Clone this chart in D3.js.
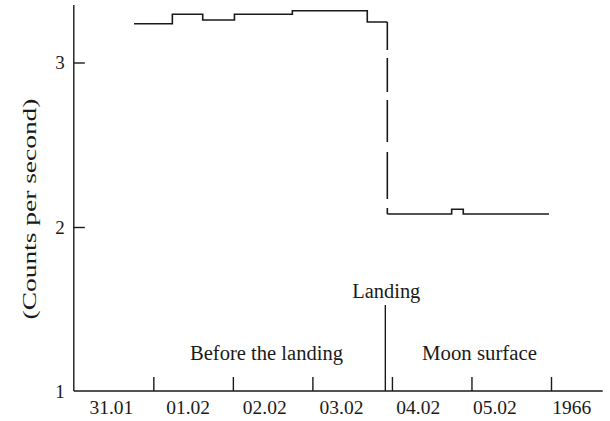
<!DOCTYPE html>
<html>
<head>
<meta charset="utf-8">
<script src="https://cdn.jsdelivr.net/npm/d3@7"></script>
<style>
  html, body { margin: 0; padding: 0; background: #fff; }
  svg { display: block; }
  text { font-family: "Liberation Serif", "DejaVu Serif", serif; fill: #1a1a1a; }
</style>
</head>
<body>
<svg id="chart" width="610" height="421"></svg>
<script>
// Count rate (counts per second) against time in days from 31.01.1966 00:00
const orbitDays   = [0.757, 1.239, 1.621, 2.02, 2.748, 3.690, 3.942];
const orbitRates  = [3.236, 3.293, 3.258, 3.293, 3.315, 3.246, 3.246];
const surfaceDays  = [3.942, 4.751, 4.897, 5.975];
const surfaceRates = [2.079, 2.108, 2.079, 2.079];
const landingDay = 3.917;

const dayTicks = [1, 2, 3, 4, 5, 6];
const dateLabels = ["31.01", "01.02", "02.02", "03.02", "04.02", "05.02", "1966"];
const rateTicks = [1, 2, 3];

const svg = d3.select("#chart");
const ink = "#1a1a1a";

const x = d3.scaleLinear().domain([0, 6]).range([73.8, 551]);
const y = d3.scaleLinear().domain([1, 3]).range([391.5, 62.5]);
const labelBand = d3.scaleBand().domain(dateLabels).range([73, 610]);

const xAxisY = 391;

// Axis lines
svg.append("line")
  .attr("x1", x(0)).attr("x2", x(0))
  .attr("y1", y(3.35)).attr("y2", xAxisY)
  .attr("stroke", ink).attr("stroke-width", 1.4);
svg.append("line")
  .attr("x1", x(0)).attr("x2", x(6.65))
  .attr("y1", xAxisY).attr("y2", xAxisY)
  .attr("stroke", ink).attr("stroke-width", 1.4);

// Y axis: ticks point inward, labels on the left
const yAxis = svg.append("g")
  .attr("transform", `translate(${x(0)},0)`)
  .call(d3.axisLeft(y).tickValues(rateTicks).tickSize(-11).tickPadding(9).tickFormat(d3.format("d")));
yAxis.select(".domain").remove();
yAxis.selectAll(".tick line").attr("stroke", ink).attr("stroke-width", 1.4)
  .filter(d => d === 1).remove();
yAxis.selectAll("text").style("font-size", "19px")
  .style("font-family", "'Liberation Serif', serif").attr("fill", ink);

// X axis: day boundary ticks pointing up
const xTicks = svg.append("g")
  .attr("transform", `translate(0,${xAxisY})`)
  .call(d3.axisBottom(x).tickValues(dayTicks).tickSize(-14).tickFormat(""));
xTicks.select(".domain").remove();
xTicks.selectAll(".tick line").attr("stroke", ink).attr("stroke-width", 1.4);

// Date labels
const xLabels = svg.append("g")
  .attr("transform", `translate(0,${xAxisY})`)
  .call(d3.axisBottom(labelBand).tickSize(0).tickPadding(9.5));
xLabels.select(".domain").remove();
xLabels.selectAll("text").style("font-size", "19.5px")
  .style("font-family", "'Liberation Serif', serif").attr("fill", ink);

// Count-rate step lines
const step = d3.line().x(d => x(d[0])).y(d => y(d[1])).curve(d3.curveStepAfter);
svg.append("path")
  .datum(d3.zip(orbitDays, orbitRates))
  .attr("d", step)
  .attr("fill", "none").attr("stroke", ink).attr("stroke-width", 1.6);
svg.append("path")
  .datum(d3.zip(surfaceDays, surfaceRates))
  .attr("d", step)
  .attr("fill", "none").attr("stroke", ink).attr("stroke-width", 1.6);

// Dashed drop at touchdown
svg.append("line")
  .attr("x1", x(orbitDays[orbitDays.length - 1])).attr("x2", x(surfaceDays[0]))
  .attr("y1", y(orbitRates[orbitRates.length - 1])).attr("y2", y(surfaceRates[0]))
  .attr("stroke", ink).attr("stroke-width", 1.6)
  .attr("stroke-dasharray", "28 8 34 8 42 10 47 9 8 0");

// Landing marker
svg.append("line")
  .attr("x1", x(landingDay)).attr("x2", x(landingDay))
  .attr("y1", 305).attr("y2", xAxisY)
  .attr("stroke", ink).attr("stroke-width", 1.4);

function note(text, cx, by, width) {
  svg.append("text")
    .attr("x", cx).attr("y", by)
    .attr("text-anchor", "middle").style("font-size", "20px")
    .attr("textLength", width).attr("lengthAdjust", "spacingAndGlyphs")
    .text(text);
}
note("Landing", x(landingDay) + 1, 298, 68);
note("Before the landing", 266.5, 360, 153);
note("Moon surface", 479.5, 360, 115);

// Y axis title
svg.append("text")
  .attr("transform", "translate(36,209) rotate(-90)")
  .attr("text-anchor", "middle").style("font-size", "19.5px")
  .attr("textLength", 221).attr("lengthAdjust", "spacingAndGlyphs")
  .text("(Counts per second)");
</script>
</body>
</html>
